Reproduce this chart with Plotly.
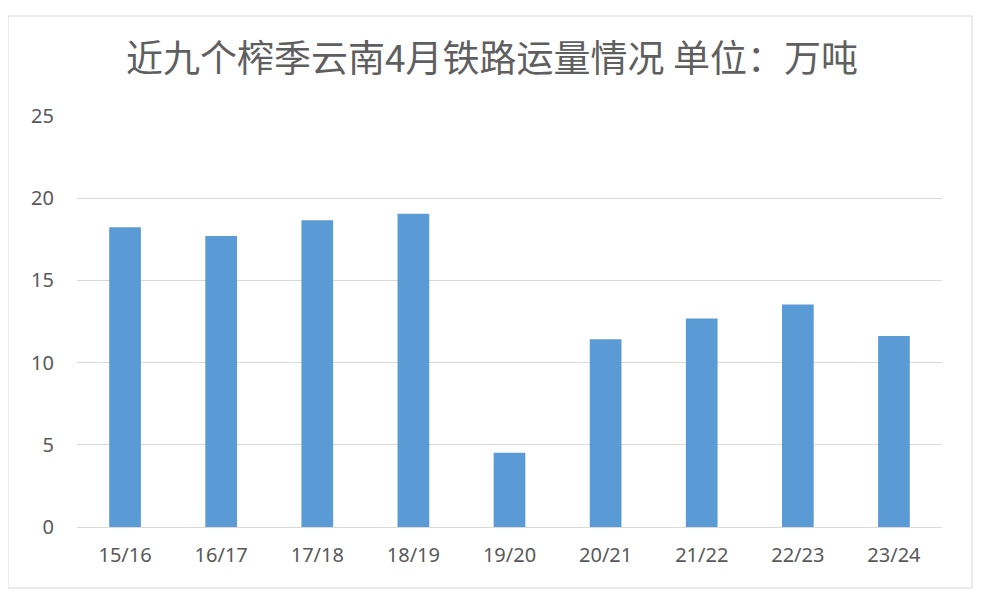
import plotly.graph_objects as go

categories = ["15/16", "16/17", "17/18", "18/19", "19/20", "20/21", "21/22", "22/23", "23/24"]
volumes = [18.23, 17.70, 18.66, 19.06, 4.52, 11.42, 12.68, 13.53, 11.62]
title_text = "近九个榨季云南4月铁路运量情况 单位：万吨"

# page body has an 8px margin; work in reference pixel coords shifted by 8
OFF = 8
W, H = 981 - OFF, 599 - OFF
L = 77 - OFF
R = W - (942 - OFF)
T = 116 - OFF
B = H - (527 - OFF)
pw, ph = W - L - R, H - T - B

def px_x(x):
    return (x - OFF - L) / pw

def px_y(y):
    return (H - B - (y - OFF)) / ph

fig = go.Figure(go.Bar(x=categories, y=volumes, marker=dict(color="#5B9BD5", line=dict(width=0))))

fig.update_layout(
    width=W, height=H,
    margin=dict(l=L, r=R, t=T, b=B),
    paper_bgcolor="white", plot_bgcolor="white",
    bargap=0.67,
    showlegend=False,
    font=dict(family="Noto Sans, Noto Sans CJK SC", color="#595959", size=20),
    title=dict(text=title_text, x=(492 - OFF) / W, xanchor="center", y=1 - (59 - OFF) / H, yanchor="middle",
               yref="container", xref="container",
               font=dict(family="Noto Sans CJK SC", size=37, color="#5f5f5f")),
    shapes=[dict(type="rect", xref="paper", yref="paper",
                 x0=px_x(8), x1=px_x(972), y0=px_y(588), y1=px_y(16),
                 line=dict(color="#D9D9D9", width=1), fillcolor="rgba(0,0,0,0)", layer="below")],
)
fig.update_yaxes(range=[0, 25], dtick=5, gridcolor="#D9D9D9", gridwidth=1, zeroline=False,
                 showline=False, ticks="", ticklabelstandoff=22, tickfont=dict(size=20))
fig.update_xaxes(showline=True, linecolor="#D9D9D9", linewidth=1, ticks="", ticklabelstandoff=10,
                 tickfont=dict(size=20))

fig.write_html("out.html")
